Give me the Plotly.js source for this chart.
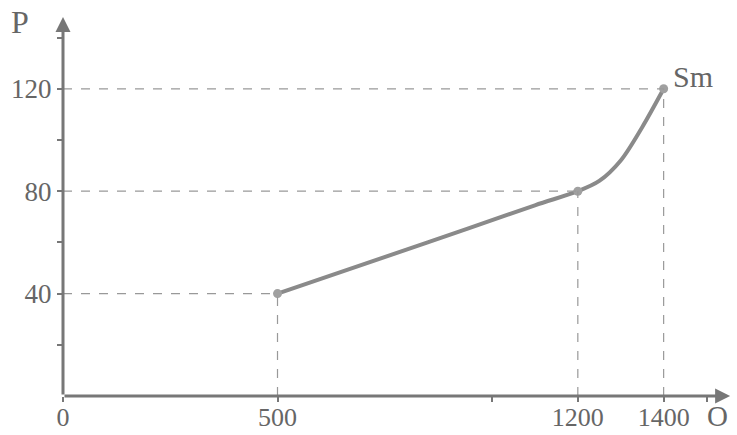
<!DOCTYPE html>
<html>
<head>
<meta charset="utf-8">
<script src="https://cdn.plot.ly/plotly-3.0.1.min.js"></script>
<style>html,body{margin:0;padding:0;background:#fff;}#chart{width:737px;height:435px;}</style>
</head>
<body>
<div id="chart"></div>
<script>
// Curve through the marked points (O, P)
const curveO = [500, 850, 1100, 1200, 1250, 1300, 1350, 1400];
const curveP = [40, 60, 74.5, 80, 84, 92, 105, 120];
// Marked points
const markO = [500, 1200, 1400];
const markP = [40, 80, 120];
const pointLabel = "Sm";
// Tick labels
const xTickVals = [0, 500, 1000, 1200, 1400, 1500];
const xTickText = ["0", "500", "", "1200", "1400", ""];
const yTickVals = [20, 40, 60, 80, 100, 120, 140];
const yTickText = ["", "40", "", "80", "", "120", ""];
const xAxisName = "O";
const yAxisName = "P";

const axisColor = "#777";
const textColor = "#666";
const guideColor = "#999";
const fontFam = "'Liberation Serif', 'Times New Roman', serif";

const shapes = [];
markO.forEach((o, i) => {
  shapes.push({type: "line", xref: "x", yref: "y", x0: 0, x1: o, y0: markP[i], y1: markP[i],
    line: {color: guideColor, width: 1.2, dash: "dash"}});
  shapes.push({type: "line", xref: "x", yref: "y", x0: o, x1: o, y0: 0, y1: markP[i],
    line: {color: guideColor, width: 1.2, dash: "dash"}});
});

const traces = [
  {x: curveO, y: curveP, mode: "lines", line: {shape: "spline", smoothing: 0.9, color: "#8a8a8a", width: 4},
   hoverinfo: "skip", showlegend: false},
  {x: markO, y: markP, mode: "markers", marker: {size: 9, color: "#a0a0a0"},
   hoverinfo: "skip", showlegend: false}
];

const layout = {
  width: 737, height: 435,
  margin: {l: 63, r: 3, t: 12, b: 39},
  paper_bgcolor: "#fff", plot_bgcolor: "#fff",
  showlegend: false,
  xaxis: {range: [0, 1564], tickvals: xTickVals, ticktext: xTickText, showgrid: false, zeroline: false,
    showline: false, ticks: "outside", ticklen: 5, tickwidth: 2, tickcolor: axisColor,
    tickfont: {family: fontFam, size: 26, color: textColor}, ticklabelstandoff: -7},
  yaxis: {range: [0, 150], tickvals: yTickVals, ticktext: yTickText, showgrid: false, zeroline: false,
    showline: false, ticks: "outside", ticklen: 5, tickwidth: 2, tickcolor: axisColor,
    tickfont: {family: fontFam, size: 27, color: textColor}, ticklabelstandoff: 0},
  shapes: shapes,
  annotations: [
    {x: 1555, y: 0, ax: 0, ay: 0, xref: "x", yref: "y", axref: "x", ayref: "y", text: "",
     showarrow: true, arrowhead: 2, arrowsize: 1, arrowwidth: 3, arrowcolor: axisColor},
    {x: 0, y: 148, ax: 0, ay: 0, xref: "x", yref: "y", axref: "x", ayref: "y", text: "",
     showarrow: true, arrowhead: 2, arrowsize: 1, arrowwidth: 3, arrowcolor: axisColor},
    {x: 1418, y: 125, xref: "x", yref: "y", text: pointLabel, showarrow: false, xanchor: "left", yanchor: "middle",
     font: {family: fontFam, size: 30, color: textColor}},
    {x: -0.064, y: 0.973, xref: "paper", yref: "paper", text: yAxisName, showarrow: false,
     xanchor: "center", yanchor: "middle", font: {family: fontFam, size: 32, color: textColor}},
    {x: 0.976, y: -0.052, xref: "paper", yref: "paper", text: xAxisName, showarrow: false,
     xanchor: "center", yanchor: "middle", font: {family: fontFam, size: 29, color: textColor}}
  ]
};

Plotly.newPlot("chart", traces, layout, {displayModeBar: false, staticPlot: true});
</script>
</body>
</html>
